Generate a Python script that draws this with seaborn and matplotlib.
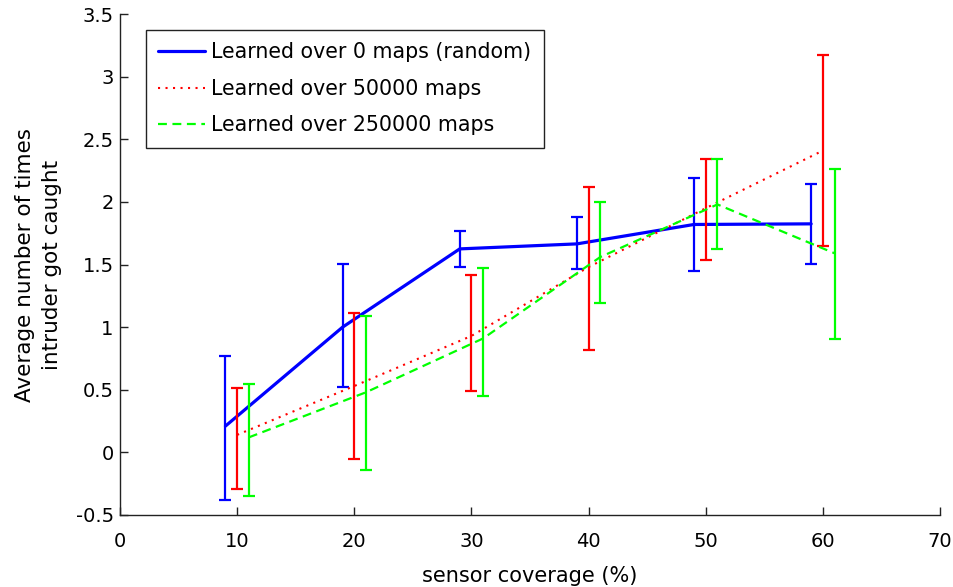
import matplotlib
matplotlib.use("Agg")
import matplotlib.pyplot as plt
import numpy as np
import pandas as pd
import seaborn as sns

# Sensor coverage (%) at which each learner was evaluated
coverage = [10, 20, 30, 40, 50, 60]

# Mean number of catches and the lower / upper ends of the error bars
labels = ["Learned over 0 maps (random)",
          "Learned over 50000 maps",
          "Learned over 250000 maps"]

random_mean = [0.21, 1.00, 1.625, 1.665, 1.82, 1.825]
random_low = [-0.38, 0.52, 1.48, 1.466, 1.445, 1.508]
random_high = [0.766, 1.506, 1.765, 1.883, 2.195, 2.144]

m50k_mean = [0.14, 0.53, 0.93, 1.48, 1.95, 2.41]
m50k_low = [-0.295, -0.053, 0.487, 0.82, 1.538, 1.652]
m50k_high = [0.514, 1.112, 1.413, 2.123, 2.342, 3.174]

m250k_mean = [0.12, 0.48, 0.91, 1.56, 1.98, 1.59]
m250k_low = [-0.346, -0.138, 0.447, 1.192, 1.623, 0.905]
m250k_high = [0.548, 1.09, 1.476, 1.998, 2.342, 2.267]

# Each series is shifted sideways a little so the bars don't overlap
offsets = [-1, 0, 1]
colors = ["#0000ff", "#ff0000", "#00ff00"]

sns.set_theme(style="white")
plt.rcParams["font.family"] = ["DejaVu Sans"]

rows = []
series = [(random_mean, random_low, random_high),
          (m50k_mean, m50k_low, m50k_high),
          (m250k_mean, m250k_low, m250k_high)]
for lab, off, (mean, low, high) in zip(labels, offsets, series):
    for c, m, lo, hi in zip(coverage, mean, low, high):
        rows.append({"coverage": c + off, "catches": m, "low": lo,
                     "high": hi, "series": lab})
df = pd.DataFrame(rows)

fig = plt.figure(figsize=(9.54, 5.87), dpi=100)
ax = fig.add_axes([120 / 954, 1 - 515 / 587, 820 / 954, (515 - 14.1) / 587])

styles = [dict(lw=2.3, ls="-"),
          dict(lw=1.5, ls=(0, (1, 2.6))),
          dict(lw=1.6, ls=(0, (4, 2.5)))]

for i, lab in enumerate(labels):
    sub = df[df["series"] == lab]
    sns.lineplot(data=sub, x="coverage", y="catches", ax=ax,
                 color=colors[i], linewidth=styles[i]["lw"],
                 linestyle=styles[i]["ls"], zorder=3 + i, legend=False)
    ax.errorbar(sub["coverage"], sub["catches"],
                yerr=[sub["catches"] - sub["low"], sub["high"] - sub["catches"]],
                fmt="none", ecolor=colors[i], elinewidth=1.6,
                capsize=4.3, capthick=1.6, zorder=3 + i)

ax.set_xlim(0, 70)
ax.set_ylim(-0.5, 3.5)
ax.set_xticks(np.arange(0, 71, 10))
ax.set_yticks(np.arange(-0.5, 3.51, 0.5))
ax.set_xticklabels([str(v) for v in range(0, 71, 10)])
ax.set_yticklabels(["-0.5", "0", "0.5", "1", "1.5", "2", "2.5", "3", "3.5"])

for side in ["top", "right"]:
    ax.spines[side].set_visible(False)
for side in ["left", "bottom"]:
    ax.spines[side].set_color("#222222")
    ax.spines[side].set_linewidth(1.0)

ax.tick_params(direction="in", length=6, width=1.0, color="#222222",
               labelsize=14, labelcolor="black", left=True, bottom=True)
ax.tick_params(axis="x", pad=12)
ax.tick_params(axis="y", pad=4.5)

ax.set_xlabel("sensor coverage (%)", fontsize=15, color="black", labelpad=11)
ax.set_ylabel("Average number of times\nintruder got caught", fontsize=15.5,
              color="black", labelpad=10, linespacing=1.4)

handles = [plt.Line2D([], [], color=colors[i], lw=styles[i]["lw"],
                      ls=styles[i]["ls"]) for i in range(3)]
leg = ax.legend(handles, labels, loc="upper left",
                bbox_to_anchor=(0.0317, 0.968), fontsize=14.8,
                frameon=True, fancybox=False, framealpha=1,
                handlelength=2.28, handletextpad=0.29, labelspacing=0.8,
                borderpad=0.6, borderaxespad=0)
leg.get_frame().set_edgecolor("#222222")
leg.get_frame().set_linewidth(1.0)
for t in leg.get_texts():
    t.set_color("black")

fig.savefig("out.png", dpi=100, facecolor="white")
